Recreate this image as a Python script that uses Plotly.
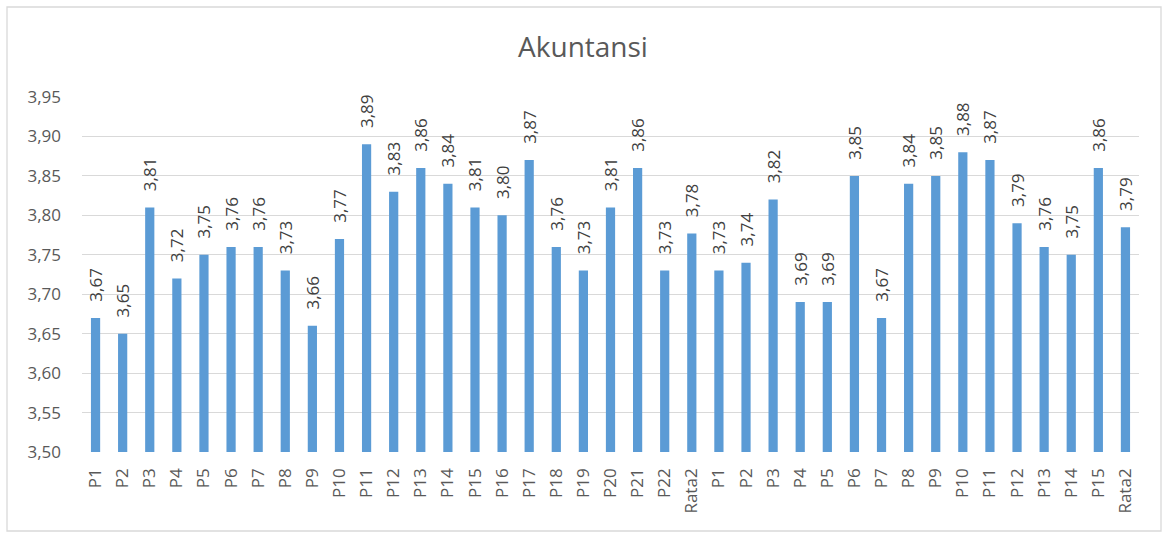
import plotly.graph_objects as go

categories = [
    "P1", "P2", "P3", "P4", "P5", "P6", "P7", "P8", "P9", "P10", "P11",
    "P12", "P13", "P14", "P15", "P16", "P17", "P18", "P19", "P20", "P21",
    "P22", "Rata2",
    "P1", "P2", "P3", "P4", "P5", "P6", "P7", "P8", "P9", "P10", "P11",
    "P12", "P13", "P14", "P15", "Rata2",
]
values = [
    3.67, 3.65, 3.81, 3.72, 3.75, 3.76, 3.76, 3.73, 3.66, 3.77, 3.89,
    3.83, 3.86, 3.84, 3.81, 3.80, 3.87, 3.76, 3.73, 3.81, 3.86,
    3.73, 3.777,
    3.73, 3.74, 3.82, 3.69, 3.69, 3.85, 3.67, 3.84, 3.85, 3.88, 3.87,
    3.79, 3.76, 3.75, 3.86, 3.785,
]
y_ticks = [3.50, 3.55, 3.60, 3.65, 3.70, 3.75, 3.80, 3.85, 3.90, 3.95]

positions = list(range(len(categories)))
# leading no-break spaces give the gap Excel leaves between bar and label
labels = ["\u00a0\u00a0\u00a0" + f"{v:.2f}".replace(".", ",") for v in values]

fig = go.Figure()
fig.add_trace(
    go.Bar(
        x=positions,
        y=[v - 3.5 for v in values],
        base=3.5,
        width=0.34,
        marker={"color": "#5B9BD5", "line": {"width": 0}},
        text=labels,
        textposition="outside",
        textangle=-90,
        constraintext="none",
        textfont={"size": 17, "color": "#404040"},
        cliponaxis=False,
        hoverinfo="skip",
    )
)

# chart border (paper coords relative to plot area)
L, R, T, B = 82, 27, 97, 81
W, H = 1166 - L - R, 533 - T - B
def px(x):
    return (x - L) / W
def py(y):
    return (533 - B - y) / H

fig.add_shape(
    type="rect", xref="paper", yref="paper",
    x0=px(7), x1=px(1161), y0=py(531), y1=py(7),
    line={"color": "#D9D9D9", "width": 1.3}, layer="below",
)

fig.update_layout(
    width=1166,
    height=533,
    margin={"l": L, "r": R, "t": T, "b": B},
    paper_bgcolor="white",
    plot_bgcolor="white",
    font={"family": "Open Sans, Liberation Sans, sans-serif", "color": "#595959"},
    title={
        "text": "Akuntansi",
        "x": 0.5,
        "xanchor": "center",
        "y": 1 - 47 / 533,
        "yanchor": "middle",
        "font": {"size": 28, "color": "#595959"},
    },
    showlegend=False,
    xaxis={
        "tickmode": "array",
        "tickvals": positions,
        "ticktext": categories,
        "tickangle": -90,
        "tickfont": {"size": 17, "color": "#595959"},
        "range": [-0.5, len(categories) - 0.5],
        "showgrid": False,
        "showline": False,
        "ticks": "",
        "zeroline": False,
        "ticklabelstandoff": 12,
    },
    yaxis={
        "range": [3.5, 3.95],
        "tickmode": "array",
        "tickvals": y_ticks,
        "ticktext": [f"{t:.2f}".replace(".", ",") for t in y_ticks],
        "tickfont": {"size": 17, "color": "#595959"},
        "showgrid": True,
        "gridcolor": "#D9D9D9",
        "gridwidth": 1.3,
        "zeroline": False,
        "showline": False,
        "ticks": "",
        "ticklabelstandoff": 20,
    },
)

fig.write_html(
    "out.html",
    config={"displayModeBar": False},
    post_script="document.body.style.margin='0';document.body.style.overflow='hidden';",
)
